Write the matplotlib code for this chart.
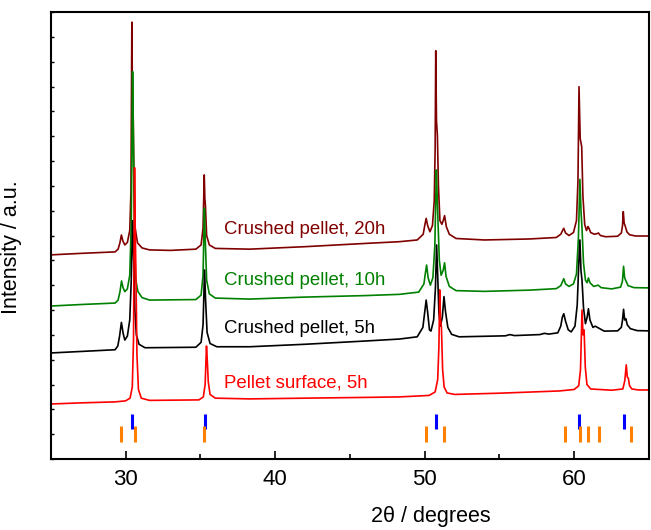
import matplotlib
matplotlib.use("Agg")
import matplotlib.pyplot as plt
from matplotlib.ticker import MultipleLocator, NullFormatter

plt.rcParams['font.family'] = ['Liberation Sans', 'DejaVu Sans']

# --- stacked XRD patterns (2theta in degrees, intensity in a.u., offset included) ---
tt_20h = [25.0, 27.0, 29.3, 29.5, 29.62, 29.72, 29.82, 29.95, 30.12, 30.28, 30.36, 30.42, 30.46, 30.50,
          30.56, 30.64, 30.80, 31.1, 31.6, 33.0, 34.7, 35.05, 35.18, 35.26, 35.30, 35.34, 35.42, 35.6,
          36.0, 38.3, 42.0, 46.0, 48.3, 49.5, 49.9, 50.02, 50.10, 50.2, 50.35, 50.52, 50.64, 50.70,
          50.74, 50.79, 50.85, 50.92, 51.02, 51.15, 51.24, 51.33, 51.45, 51.65, 52.1, 54.0, 57.0, 58.8,
          59.1, 59.22, 59.30, 59.42, 59.65, 59.95, 60.15, 60.25, 60.32, 60.40, 60.50, 60.58, 60.70,
          60.82, 60.92, 60.98, 61.1, 61.35, 61.55, 61.62, 61.75, 62.1, 62.9, 63.15, 63.23, 63.28, 63.34,
          63.42, 63.52, 63.7, 64.1, 65.0]
int_20h = [8.22, 8.28, 8.34, 8.45, 8.70, 9.02, 8.78, 8.62, 8.72, 9.2, 10.8, 17.59, 14.5, 14.3,
           11.0, 9.3, 8.7, 8.5, 8.42, 8.40, 8.45, 8.62, 9.3, 11.44, 10.5, 10.2, 9.0, 8.62,
           8.48, 8.45, 8.55, 8.68, 8.75, 8.82, 9.05, 9.45, 9.69, 9.40, 9.15, 9.40, 10.4, 12.5,
           16.44, 13.6, 13.05, 11.0, 9.6, 9.45, 9.6, 9.80, 9.35, 9.05, 8.88, 8.82, 8.86, 8.92,
           9.05, 9.2, 9.29, 9.10, 9.0, 9.12, 9.6, 11.2, 14.99, 12.9, 12.58, 10.6, 9.45,
           9.2, 9.36, 9.3, 9.12, 9.05, 9.08, 9.1, 9.0, 8.95, 8.97, 9.1, 9.4, 9.96, 9.5,
           9.36, 9.15, 9.03, 8.98, 8.98]

tt_10h = [25.0, 27.0, 29.3, 29.5, 29.63, 29.73, 29.83, 29.95, 30.12, 30.28, 30.38, 30.47, 30.52, 30.58,
          30.66, 30.82, 31.1, 31.6, 34.7, 35.05, 35.18, 35.27, 35.33, 35.42, 35.6, 36.0, 38.3, 42.0,
          46.0, 48.3, 49.6, 49.95, 50.05, 50.13, 50.23, 50.38, 50.55, 50.68, 50.78, 50.84, 50.90, 50.98,
          51.10, 51.24, 51.33, 51.43, 51.65, 52.1, 54.0, 57.0, 58.8, 59.1, 59.2, 59.30, 59.42, 59.65,
          59.95, 60.15, 60.28, 60.38, 60.46, 60.52, 60.62, 60.75, 60.86, 60.95, 61.05, 61.3, 61.6, 61.8,
          62.5, 63.1, 63.22, 63.30, 63.37, 63.45, 63.6, 64.0, 65.0]
int_10h = [6.16, 6.22, 6.28, 6.40, 6.75, 7.17, 6.90, 6.74, 6.85, 7.4, 9.5, 15.60, 13.2, 9.8,
           7.3, 6.75, 6.5, 6.40, 6.42, 6.6, 7.4, 10.1, 8.8, 7.2, 6.65, 6.48, 6.44, 6.52,
           6.58, 6.63, 6.72, 7.05, 7.5, 7.81, 7.3, 7.0, 7.3, 8.6, 11.64, 10.5, 9.4, 8.0,
           7.4, 7.6, 7.90, 7.35, 6.95, 6.78, 6.75, 6.80, 6.86, 6.98, 7.12, 7.26, 7.05, 6.95,
           7.05, 7.45, 8.9, 11.26, 9.9, 9.3, 7.9, 7.2, 7.1, 7.29, 7.1, 6.95, 7.0, 6.9,
           6.85, 6.92, 7.15, 7.76, 7.3, 7.18, 6.98, 6.9, 6.89]

tt_5h = [25.0, 27.0, 29.3, 29.48, 29.6, 29.72, 29.84, 29.95, 30.12, 30.28, 30.38, 30.47, 30.54, 30.62,
         30.72, 30.9, 31.3, 34.7, 35.05, 35.18, 35.28, 35.35, 35.45, 35.65, 36.1, 38.3, 42.0, 46.0,
         48.3, 49.5, 49.88, 50.0, 50.1, 50.2, 50.32, 50.42, 50.6, 50.72, 50.80, 50.87, 50.95, 51.05,
         51.18, 51.29, 51.40, 51.55, 51.8, 52.3, 55.4, 55.7, 56.0, 57.7, 58.0, 58.3, 58.9, 59.1,
         59.2, 59.3, 59.42, 59.6, 59.8, 60.05, 60.2, 60.3, 60.38, 60.45, 60.52, 60.62, 60.75, 60.86,
         60.95, 61.05, 61.25, 61.4, 61.7, 62.0, 62.9, 63.15, 63.23, 63.30, 63.37, 63.45, 63.55, 63.75,
         64.2, 65.0]
int_5h = [4.27, 4.33, 4.40, 4.55, 4.95, 5.50, 5.05, 4.79, 4.95, 5.6, 7.2, 9.6, 8.2, 6.0,
          5.0, 4.62, 4.48, 4.5, 4.7, 5.4, 7.61, 6.4, 5.1, 4.65, 4.52, 4.52, 4.62, 4.75,
          4.83, 4.92, 5.3, 5.9, 6.40, 5.9, 5.2, 5.15, 5.6, 6.9, 8.62, 7.4, 5.9, 5.35,
          5.7, 6.54, 5.9, 5.3, 5.02, 4.92, 4.96, 5.01, 4.97, 5.01, 5.06, 5.03, 5.08, 5.35,
          5.7, 5.85, 5.55, 5.2, 5.12, 5.35, 6.2, 7.8, 8.82, 7.6, 7.2, 6.1, 5.45, 5.7,
          6.05, 5.6, 5.3, 5.35, 5.25, 5.15, 5.16, 5.3, 5.6, 6.03, 5.6, 5.65, 5.4, 5.25,
          5.17, 5.16]

tt_surf = [25.0, 27.0, 29.3, 30.0, 30.3, 30.45, 30.53, 30.60, 30.65, 30.69, 30.76, 30.86, 31.05, 31.6,
           34.9, 35.2, 35.32, 35.41, 35.47, 35.53, 35.65, 36.0, 38.3, 42.0, 46.0, 48.3, 50.3, 50.7,
           50.87, 50.95, 51.01, 51.06, 51.12, 51.2, 51.3, 51.5, 52.0, 55.0, 59.0, 60.0, 60.3, 60.42,
           60.52, 60.59, 60.66, 60.74, 60.85, 61.1, 62.5, 63.25, 63.38, 63.48, 63.55, 63.62, 63.7, 63.85,
           64.3, 65.0]
int_surf = [2.215, 2.26, 2.30, 2.34, 2.45, 2.9, 4.8, 11.73, 9.0, 7.6, 4.2, 2.8, 2.45, 2.36,
            2.38, 2.5, 3.0, 4.55, 3.9, 3.1, 2.6, 2.45, 2.42, 2.45, 2.48, 2.50, 2.56, 2.7,
            3.2, 4.5, 6.81, 5.6, 5.32, 3.6, 2.9, 2.66, 2.6, 2.65, 2.74, 2.8, 2.95, 3.6,
            6.0, 5.0, 5.2, 3.7, 3.0, 2.82, 2.77, 2.82, 3.15, 3.79, 3.3, 3.25, 2.95, 2.82,
            2.78, 2.78]

# reference reflection positions (2theta, degrees)
refl_blue = [30.44, 35.29, 50.76, 60.35, 63.35]
refl_orange = [29.72, 30.61, 35.24, 50.10, 51.30, 59.35, 60.40, 60.94, 61.69, 63.77]

labels = ["Crushed pellet, 20h", "Crushed pellet, 10h", "Crushed pellet, 5h", "Pellet surface, 5h"]
colors = ["#800000", "#008000", "#000000", "#FF0000"]
label_y = [9.26, 7.17, 5.24, 3.06]

fig = plt.figure(figsize=(6.51, 5.30), dpi=100)
ax = fig.add_axes([50.8 / 651, 1 - 459 / 530, (649 - 50.8) / 651, (459 - 12) / 530])

series = [(tt_20h, int_20h), (tt_10h, int_10h), (tt_5h, int_5h), (tt_surf, int_surf)]
for (x, y), c in zip(series, colors):
    ax.plot(x, y, color=c, lw=1.2, solid_joinstyle='round')

for lab, c, yl in zip(labels, colors, label_y):
    ax.text(36.6, yl, lab, color=c, fontsize=13.4, va='center', ha='left')

ax.vlines(refl_blue, 1.21, 1.81, color="#0000FF", lw=2.2)
ax.vlines(refl_orange, 0.68, 1.33, color="#FF8000", lw=2.2)

ax.set_xlim(25, 65)
ax.set_ylim(0, 18)
ax.xaxis.set_major_locator(MultipleLocator(10))
ax.xaxis.set_minor_locator(MultipleLocator(5))
ax.yaxis.set_major_locator(MultipleLocator(1))
ax.yaxis.set_major_formatter(NullFormatter())
ax.tick_params(axis='x', which='major', direction='in', length=6, width=1.2, labelsize=16, pad=7)
ax.tick_params(axis='x', which='minor', direction='in', length=3.5, width=1.2)
ax.tick_params(axis='y', which='major', direction='in', length=2.5, width=1.0)
for s in ax.spines.values():
    s.set_linewidth(1.5)

ax.set_xlabel("2θ / degrees", fontsize=15.5)
ax.set_ylabel("Intensity / a.u.", fontsize=15.5)
ax.xaxis.set_label_coords(0.636, -0.105)
ax.yaxis.set_label_coords(-0.048, 0.474)

fig.savefig("out.png", dpi=100)
